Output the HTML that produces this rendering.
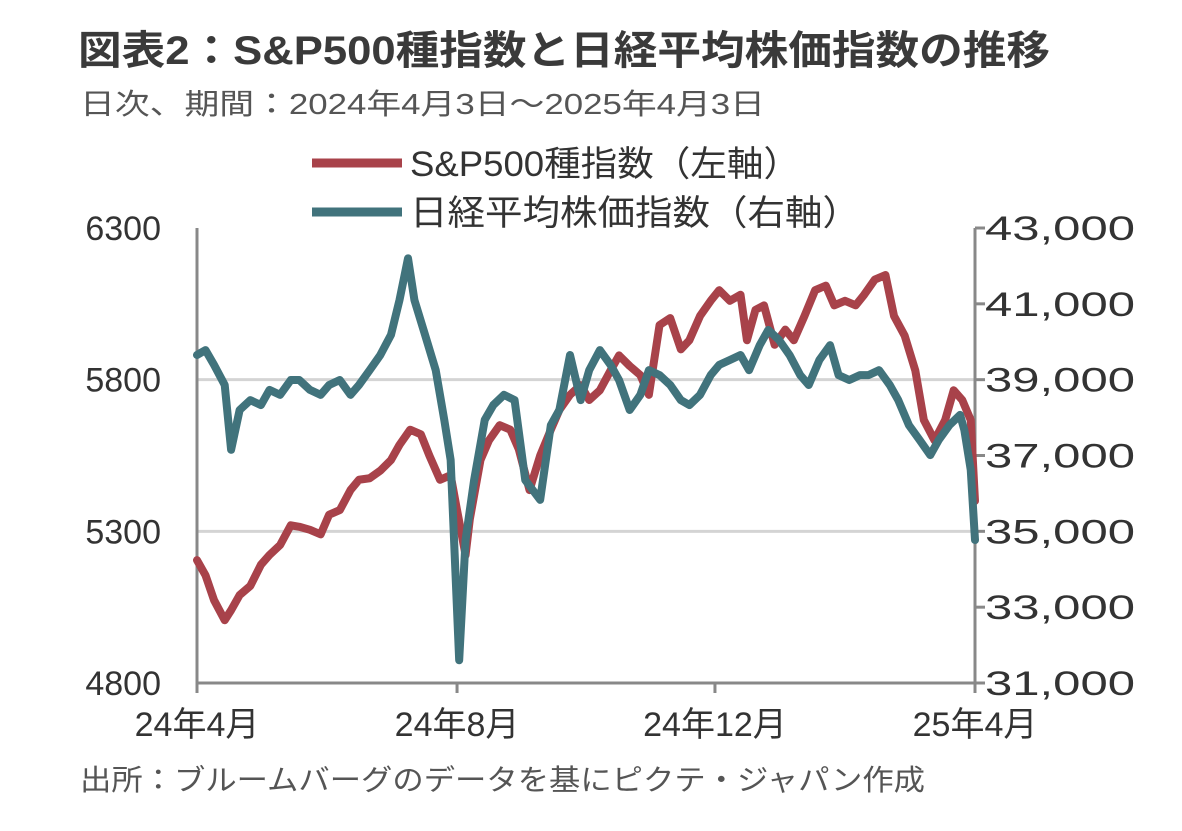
<!DOCTYPE html>
<html><head><meta charset="utf-8"><style>
body{margin:0;background:#fff;width:1182px;height:826px;overflow:hidden;font-family:"Liberation Sans","Noto Sans CJK JP",sans-serif;color:#333}
</style></head><body>
<svg width="1182" height="826" font-family="Liberation Sans, Noto Sans CJK JP, sans-serif">
<text x="78" y="64" font-size="40" font-weight="bold" fill="#3a3a3a" textLength="972" lengthAdjust="spacingAndGlyphs">図表2：S&amp;P500種指数と日経平均株価指数の推移</text>
<text x="80" y="114" font-size="29" fill="#555" textLength="685" lengthAdjust="spacingAndGlyphs">日次、期間：2024年4月3日～2025年4月3日</text>
<g id="grid"></g>
<g id="axes"></g>
<g id="series"></g>
<rect x="300" y="140" width="570" height="92" fill="#fff"/>
<line x1="312" y1="163" x2="402" y2="163" stroke="#a8424a" stroke-width="9"/>
<text x="410" y="176" font-size="35" fill="#333" textLength="390" lengthAdjust="spacingAndGlyphs">S&amp;P500種指数（左軸）</text>
<line x1="312" y1="212" x2="402" y2="212" stroke="#41737c" stroke-width="9"/>
<text x="410" y="225" font-size="35" fill="#333" textLength="450" lengthAdjust="spacingAndGlyphs">日経平均株価指数（右軸）</text>
<text x="80" y="790" font-size="29" fill="#555" textLength="845" lengthAdjust="spacingAndGlyphs">出所：ブルームバーグのデータを基にピクテ・ジャパン作成</text>
</svg>
<script>
const spDays=[0,4,8,13,16,20,25,30,34,39,44,48,53,58,62,67,72,76,81,86,91,95,100,105,109,114,119,122,126,128,133,137,142,147,151,156,161,166,170,175,180,184,189,194,198,203,208,212,217,222,227,231,236,241,245,250,255,258,262,266,271,276,280,285,290,295,299,304,309,313,318,323,327,332,337,341,346,351,355,359,363,365];
const spValues=[5205,5155,5073,5007,5040,5090,5120,5190,5222,5255,5320,5315,5305,5290,5355,5370,5436,5470,5475,5500,5535,5585,5635,5620,5550,5470,5485,5370,5222,5340,5535,5600,5650,5635,5570,5436,5550,5635,5700,5750,5782,5733,5765,5830,5880,5845,5815,5750,5980,6003,5900,5930,6010,6060,6095,6060,6080,5930,6030,6045,5915,5965,5930,6010,6095,6110,6045,6060,6045,6080,6130,6145,6010,5945,5830,5667,5600,5667,5765,5733,5667,5400];
const nkDays=[0,4,8,13,16,20,25,30,34,39,44,48,53,58,62,67,72,76,81,86,91,95,99,102,107,112,116,119,123,126,130,135,139,144,149,154,161,166,170,175,180,184,189,194,198,203,208,212,217,222,227,231,236,241,245,250,255,259,264,268,273,278,283,287,292,297,301,306,311,315,320,325,329,334,339,344,348,353,358,360,363,365];
const nkValues=[39650,39780,39390,38860,37150,38200,38460,38330,38730,38600,38990,38990,38730,38600,38860,38990,38600,38860,39250,39650,40180,41100,42200,41100,40180,39250,37940,36880,31600,34770,36350,37940,38330,38600,38460,36350,35830,37800,38200,39650,38460,39250,39780,39390,38990,38200,38600,39250,39120,38860,38460,38330,38600,39120,39390,39520,39650,39250,39910,40310,40050,39650,39120,38860,39520,39910,39120,38990,39120,39120,39250,38860,38460,37800,37410,37010,37410,37800,38070,37670,36620,34770];
const leftTicks=[4800,5300,5800,6300];
const rightTicks=[31000,33000,35000,37000,39000,41000,43000];
const xTickDays=[0,122,243,365];
const xTickLabels=["24年4月","24年8月","24年12月","25年4月"];
const NS="http://www.w3.org/2000/svg";
const L=197,R=975,T=228,B=683;
const xS=d=>L+d/365*(R-L);
const yL=v=>B-(v-4800)/1500*(B-T);
const yR=v=>B-(v-31000)/12000*(B-T);
function mk(tag,attrs,parent){const e=document.createElementNS(NS,tag);for(const k in attrs)e.setAttribute(k,attrs[k]);document.getElementById(parent).appendChild(e);return e;}
leftTicks.forEach(v=>{
  if(v>4800&&v<6300){const g=mk('line',{x1:L,x2:R,y1:yL(v),y2:yL(v),stroke:'#d4d4d4','stroke-width':3},'grid');
  
  }
  const t=mk('text',{x:161,y:yL(v)+12,'font-size':34,'text-anchor':'end',fill:'#333'},'axes');t.textContent=v;
  
  
});
rightTicks.forEach(v=>{
  const tk=mk('line',{x1:R,x2:R+10,y1:yR(v),y2:yR(v),stroke:'#888','stroke-width':3},'axes');
  
  
  const t=mk('text',{x:985,y:yR(v)+12,'font-size':34,fill:'#333',textLength:150,lengthAdjust:'spacingAndGlyphs'},'axes');t.textContent=v.toLocaleString('en-US');
  
  
});
let a=mk('line',{x1:L,x2:L,y1:T,y2:B,stroke:'#888','stroke-width':3},'axes');


a=mk('line',{x1:R,x2:R,y1:T,y2:B,stroke:'#888','stroke-width':3},'axes');


a=mk('line',{x1:L,x2:R,y1:B,y2:B,stroke:'#888','stroke-width':3},'axes');


xTickDays.forEach((d,i)=>{
  const tk=mk('line',{x1:xS(d),x2:xS(d),y1:B,y2:B+10,stroke:'#888','stroke-width':3},'axes');
  
  
  const t=mk('text',{x:xS(d),y:B+53,'font-size':34,'text-anchor':'middle',fill:'#333'},'axes');t.textContent=xTickLabels[i];
  
  
});
const spPts=spDays.map((d,i)=>xS(d)+','+yL(spValues[i])).join(' ');
const nkPts=nkDays.map((d,i)=>xS(d)+','+yR(nkValues[i])).join(' ');
const p1=mk('polyline',{points:spPts,fill:'none',stroke:'#a8424a','stroke-width':8,'stroke-linejoin':'round','stroke-linecap':'round'},'series');


const p2=mk('polyline',{points:nkPts,fill:'none',stroke:'#41737c','stroke-width':8,'stroke-linejoin':'round','stroke-linecap':'round'},'series');


</script>
</body></html>
